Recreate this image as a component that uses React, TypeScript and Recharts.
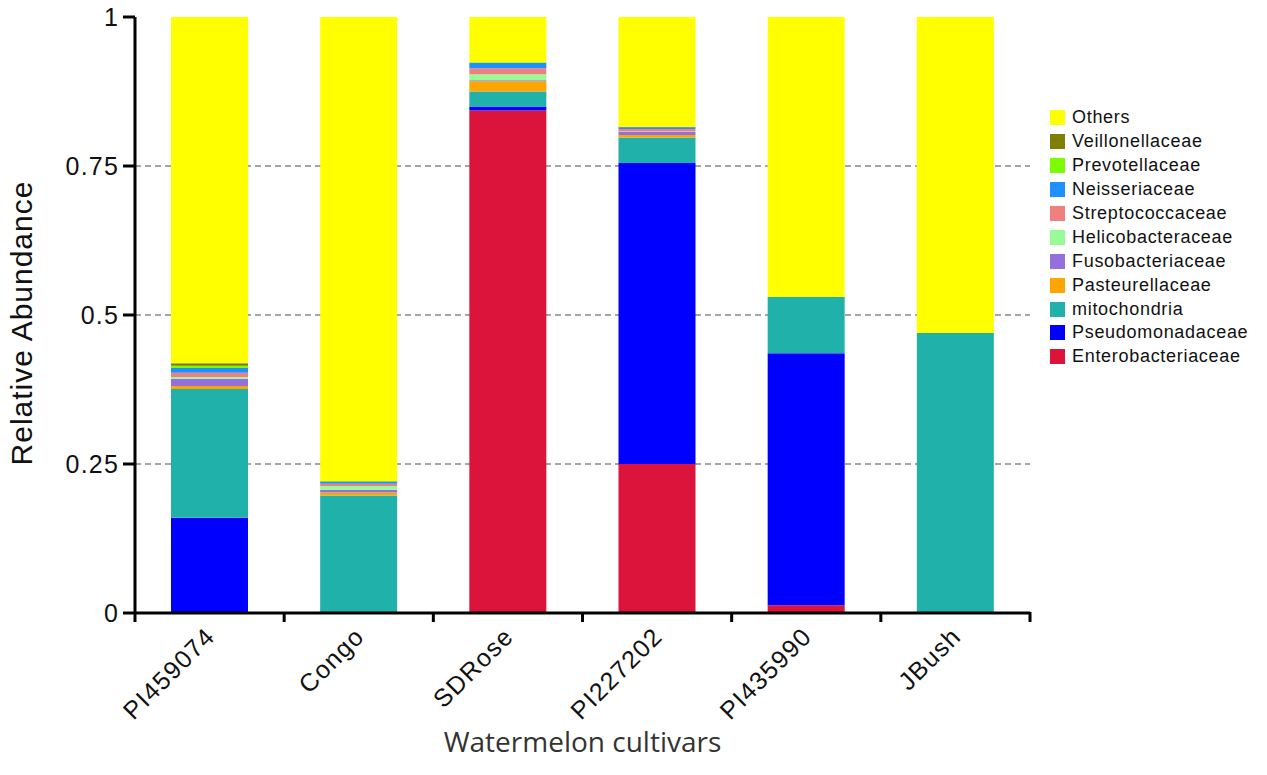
import { BarChart, Bar, XAxis, YAxis, CartesianGrid, Label } from "recharts";

const cultivars = ["PI459074", "Congo", "SDRose", "PI227202", "PI435990", "JBush"];

const enterobacteriaceae = [0, 0, 0.843, 0.25, 0.013, 0];
const pseudomonadaceae = [0.16, 0, 0.007, 0.505, 0.423, 0];
const mitochondria = [0.216, 0.197, 0.025, 0.043, 0.094, 0.47];
const pasteurellaceae = [0.005, 0.005, 0.017, 0.004, 0, 0];
const fusobacteriaceae = [0.012, 0.005, 0.002, 0.005, 0, 0];
const helicobacteraceae = [0.003, 0.006, 0.01, 0.001, 0, 0];
const streptococcaceae = [0.007, 0.004, 0.01, 0.004, 0, 0];
const neisseriaceae = [0.008, 0.003, 0.009, 0.003, 0, 0];
const prevotellaceae = [0.004, 0.001, 0.001, 0, 0, 0];
const veillonellaceae = [0.004, 0.001, 0, 0.001, 0, 0];
const others = [0.581, 0.778, 0.076, 0.184, 0.47, 0.53];

const yTicks = [0, 0.25, 0.5, 0.75, 1];

// bottom to top stacking order
const SERIES = [
  { key: "Enterobacteriaceae", values: enterobacteriaceae, color: "#dc143c" },
  { key: "Pseudomonadaceae", values: pseudomonadaceae, color: "#0000ff" },
  { key: "mitochondria", values: mitochondria, color: "#20b2aa" },
  { key: "Pasteurellaceae", values: pasteurellaceae, color: "#ffa500" },
  { key: "Fusobacteriaceae", values: fusobacteriaceae, color: "#9370db" },
  { key: "Helicobacteraceae", values: helicobacteraceae, color: "#98fb98" },
  { key: "Streptococcaceae", values: streptococcaceae, color: "#f08080" },
  { key: "Neisseriaceae", values: neisseriaceae, color: "#1e90ff" },
  { key: "Prevotellaceae", values: prevotellaceae, color: "#7cfc00" },
  { key: "Veillonellaceae", values: veillonellaceae, color: "#808000" },
  { key: "Others", values: others, color: "#ffff00" },
];

const data = cultivars.map((name, i) => {
  const row: Record<string, any> = { name };
  for (const s of SERIES) row[s.key] = s.values[i];
  return row;
});

const HALF_BAND = 895 / 12;

function XTick(props: any) {
  const { x, y, payload, index } = props;
  const tx = x + 7;
  const ty = y + 25;
  return (
    <g>
      <line x1={x - HALF_BAND} y1={y} x2={x - HALF_BAND} y2={y + 9} stroke="#000" strokeWidth={3} />
      {index === cultivars.length - 1 && (
        <line x1={x + HALF_BAND} y1={y - 1} x2={x + HALF_BAND} y2={y + 9} stroke="#000" strokeWidth={3} />
      )}
      <text
        x={tx}
        y={ty}
        textAnchor="end"
        transform={`rotate(-45 ${tx} ${ty})`}
        fontSize={25}
        letterSpacing={1.3}
        fill="#111"
        fontFamily="Liberation Sans, Arial, sans-serif"
      >
        {payload.value}
      </text>
    </g>
  );
}

function LegendBox() {
  const rows = [...SERIES].reverse();
  return (
    <div style={{ position: "absolute", left: 1050, top: 106, fontFamily: "Liberation Sans, Arial, sans-serif" }}>
      {rows.map((s) => (
        <div key={s.key} style={{ display: "flex", alignItems: "center", height: 23.9 }}>
          <span style={{ width: 15, height: 15, background: s.color, marginRight: 7, flex: "none" }} />
          <span style={{ fontSize: 18, letterSpacing: 0.7, color: "#111", whiteSpace: "nowrap" }}>{s.key}</span>
        </div>
      ))}
    </div>
  );
}

export default function App() {
  return (
    <div style={{ position: "relative", margin: -8, width: 1267, height: 775, fontFamily: "Liberation Sans, Arial, sans-serif" }}>
      <BarChart
        width={1267}
        height={775}
        data={data}
        margin={{ top: 17, right: 237, bottom: 0, left: 0 }}
        barSize={77}
      >
        <CartesianGrid
          vertical={false}
          horizontalValues={[0.25, 0.5, 0.75]}
          stroke="#888"
          strokeDasharray="6 4"
          strokeWidth={1.3}
        />
        <XAxis
          dataKey="name"
          height={162}
          tickSize={0}
          tickMargin={0}
          tickLine={false}
          axisLine={{ stroke: "#000", strokeWidth: 3 }}
          tick={<XTick />}
          interval={0}
        >
          <Label
            content={(p: any) => {
              const vb = p.viewBox;
              return (
                <text
                  x={vb.x + vb.width / 2}
                  y={vb.y + 139}
                  textAnchor="middle"
                  fontSize={28}
                  fill="#333"
                  fontFamily="Open Sans, sans-serif"
                >
                  Watermelon cultivars
                </text>
              );
            }}
          />
        </XAxis>
        <YAxis
          width={135}
          domain={[0, 1]}
          allowDataOverflow
          ticks={yTicks}
          interval={0}
          tickSize={12}
          tickMargin={4}
          tickLine={{ stroke: "#000", strokeWidth: 3 }}
          axisLine={{ stroke: "#000", strokeWidth: 3 }}
          tick={{ fontSize: 25, fill: "#111", letterSpacing: 1.2 }}
        >
          <Label
            content={(p: any) => {
              const vb = p.viewBox;
              const cy = vb.y + vb.height / 2 + 8;
              return (
                <text
                  x={32}
                  y={cy}
                  textAnchor="middle"
                  transform={`rotate(-90 32 ${cy})`}
                  fontSize={30}
                  letterSpacing={1}
                  fill="#111"
                  fontFamily="Liberation Sans, Arial, sans-serif"
                >
                  Relative Abundance
                </text>
              );
            }}
          />
        </YAxis>
        {SERIES.map((s) => (
          <Bar key={s.key} dataKey={s.key} stackId="a" fill={s.color} isAnimationActive={false} />
        ))}
      </BarChart>
      <LegendBox />
    </div>
  );
}
